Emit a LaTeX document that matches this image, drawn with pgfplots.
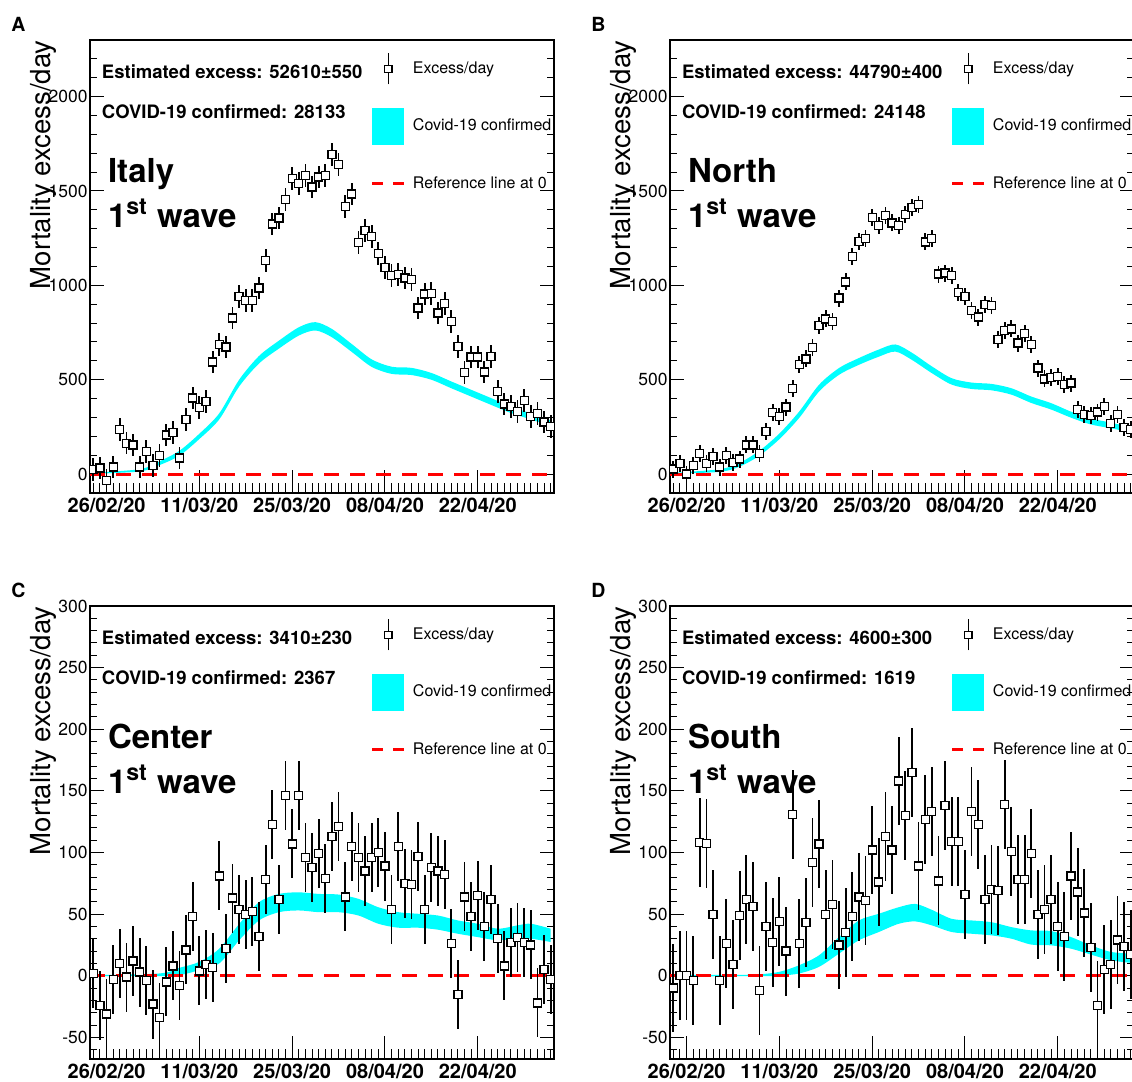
\documentclass[border=0pt]{standalone}
\usepackage{fontspec}
\setmainfont{TeX Gyre Heros}
\usepackage{pgfplots}
\usepackage{pgfplotstable}
\pgfplotsset{compat=1.18}
\usepgfplotslibrary{fillbetween}
\definecolor{rcyan}{RGB}{0,255,255}
\definecolor{rred}{RGB}{255,0,0}

\pgfplotsset{
 panel/.style={
  scale only axis, width=232pt, height=226.5pt, anchor=south west,
  xmin=-2.5, xmax=67.5,
  xtick={0,14,28,42,56},
  xticklabels={26/02/20,11/03/20,25/03/20,08/04/20,22/04/20},
  minor xtick={-2,-1,...,67},
  xtick pos=left,
  ytick pos=both, yticklabel pos=left,
  tick align=inside,
  major tick length=7pt, minor tick length=3.5pt,
  xtick style={/pgfplots/major tick length=11.5pt,/pgfplots/minor tick length=5pt},
  tick style={black, line width=0.5pt},
  axis line style={line width=0.65pt},
  xticklabel style={font=\bfseries\fontsize{10}{12}\selectfont, inner sep=0pt, yshift=-2.5pt},
  yticklabel style={font=\fontsize{8.75}{10}\selectfont, inner sep=0pt, xshift=-1pt},
  /pgf/number format/assume math mode=true,
  /pgf/number format/1000 sep={},
  scaled y ticks=false,
  ylabel={Mortality excess/day},
  ylabel style={at={(axis description cs:-0.1013,1)}, anchor=east, inner sep=0pt, font=\fontsize{13.8}{16}\selectfont},
  legend style={at={(axis description cs:0.6056,1)}, anchor=north west, draw=none, fill=none,
    inner sep=0pt, outer sep=0pt, row sep=0pt, nodes={inner sep=0pt},
    font=\fontsize{8}{9.6}\selectfont, /tikz/every odd column/.style={column sep=3.5pt}},
  legend cell align=left,
 },
 bigA/.style={ymin=-100, ymax=2300, ytick={0,500,...,2000}, minor ytick={-100,0,...,2300}},
 smallC/.style={ymin=-67.5, ymax=300, ytick={-50,0,...,300}, minor ytick={-60,-50,...,300}},
 exlegend/.style={legend image code/.code={
   \path[draw=none, fill=none] (0pt,-14.4pt) rectangle (16pt,14.4pt);
   \draw[black, line width=0.85pt] (8pt,-7.75pt) -- (8pt,7.75pt);
   \draw[black, line width=0.6pt, fill=white] (6.2pt,-1.8pt) rectangle (9.8pt,1.8pt);}},
 covlegend/.style={legend image code/.code={
   \path[draw=none, fill=none] (0pt,-14.4pt) rectangle (16pt,14.4pt);
   \fill[rcyan, draw=none] (0pt,-9.25pt) rectangle (16pt,9.25pt);}},
 reflegend/.style={legend image code/.code={
   \path[draw=none, fill=none] (0pt,-14.4pt) rectangle (16pt,14.4pt);
   \draw[rred, line width=1.5pt, dash pattern=on 5.5pt off 5pt] (0pt,0pt) -- (16pt,0pt);}},
 datapts/.style={only marks, mark=square*, mark size=2pt,
   mark options={fill=white, draw=black, line width=0.65pt, solid},
   /pgfplots/error bars/y dir=both, /pgfplots/error bars/y explicit,
   /pgfplots/error bars/error mark=none,
   /pgfplots/error bars/error bar style={line width=0.9pt, black}},
 refline/.style={rred, line width=1.5pt, dash pattern=on 7.5pt off 5.5pt},
}

\newcommand{\annot}[3]{%
  \node[anchor=base west, inner sep=0pt, font=\bfseries\fontsize{9.25}{11}\selectfont] at (axis description cs:0.025,0.914) {Estimated excess: #1};
  \node[anchor=base west, inner sep=0pt, font=\bfseries\fontsize{9.25}{11}\selectfont] at (axis description cs:0.025,0.827) {COVID-19 confirmed: #2};
  \node[anchor=base west, inner sep=0pt, font=\bfseries\fontsize{16.5}{19}\selectfont] at (axis description cs:0.038,0.685) {#3};
  \node[anchor=base west, inner sep=0pt, font=\bfseries\fontsize{16.5}{19}\selectfont] at (axis description cs:0.038,0.587) {1\textsuperscript{st} wave};
}
\newcommand{\legs}{%
  \addlegendimage{exlegend}\addlegendentry{Excess/day}
  \addlegendimage{covlegend}\addlegendentry{Covid-19 confirmed}
  \addlegendimage{reflegend}\addlegendentry{Reference line at 0}
}

\begin{document}
\pgfplotstableread{
d v
-2 25
-1 32
0 -34
1 37
2 235
3 164
4 155
5 37
6 120
7 46
8 97
9 208
10 221
11 85
12 288
13 403
14 353
15 385
16 594
17 686
18 673
19 827
20 942
21 921
22 921
23 986
24 1133
25 1325
26 1357
27 1454
28 1566
29 1539
30 1581
31 1521
32 1574
33 1581
34 1693
35 1640
36 1419
37 1484
38 1228
39 1290
40 1260
41 1168
42 1096
43 1051
44 1057
45 1039
46 1030
47 880
48 954
49 956
50 853
51 903
52 809
53 677
54 539
55 620
56 620
57 541
58 624
59 438
60 371
61 359
62 332
63 389
64 306
65 320
66 276
67 253
}\dataA
\pgfplotstableread{
d lo hi
-2 2 8
5 14 26
8 48 68
11 98 124
14 186 214
17 290 322
20 464 500
23 586 626
26 665 707
29 734 778
31.5 761 805
34 725 769
37 647 689
40 568 608
43 531 569
46 525 563
49 500 536
52 455 491
55 411 447
58 367 403
61 324 358
64 290 322
67 255 285
}\bandA
\pgfplotstableread{
d v
-2 27
-1 55
0 0
1 46
2 111
3 58
4 94
5 37
6 97
7 62
8 80
9 155
10 155
11 108
12 226
13 327
14 306
15 355
16 452
17 580
18 610
19 671
20 786
21 822
22 809
23 933
24 1018
25 1154
26 1233
27 1247
28 1361
29 1316
30 1371
31 1331
32 1316
33 1375
34 1414
35 1428
36 1230
37 1247
38 1060
39 1065
40 1053
41 963
42 942
43 868
44 832
45 898
46 892
47 712
48 760
49 769
50 694
51 744
52 686
53 562
54 504
55 512
56 518
57 474
58 482
59 341
60 315
61 311
62 329
63 359
64 270
65 315
66 247
67 235
}\dataB
\pgfplotstableread{
d lo hi
-2 2 7
5 12 26
8 40 60
11 98 124
14 185 215
17 298 332
20 438 474
23 526 562
26 579 615
29 622 660
31.5 649 687
34 605 643
37 535 571
40 474 508
43 451 485
46 444 478
49 421 455
52 377 411
55 342 376
58 299 331
61 263 295
64 243 273
67 221 249
}\bandB
\pgfplotstableread{
d v
-2 2
-1 -24
0 -31
1 -3
2 10
3 -1
4 12
5 3
6 -4
7 -23
8 -34
9 -5
10 8
11 -8
12 21
13 48
14 4
15 9
16 7
17 81
18 22
19 63
20 54
21 50
22 52
23 32
24 78
25 123
26 62
27 146
28 107
29 146
30 96
31 88
32 99
33 79
34 113
35 121
36 64
37 105
38 96
39 85
40 96
41 100
42 89
43 54
44 105
45 75
46 74
47 97
48 54
49 88
50 85
51 82
52 26
53 -15
54 64
55 48
56 65
57 40
58 62
59 30
60 8
61 27
62 31
63 27
64 25
65 -22
66 5
67 -3
}\dataC
\pgfplotstableread{
d lo hi
-2 -0.3 0.5
8 -0.3 1.9
11 0.5 6.5
14 4.6 11.3
17 10 22
20 28.8 42
23 44.9 59.7
26 51.6 66.4
29 53 67.7
32 51.6 66.4
35 51.6 65.9
38 48.9 62.4
41 42.2 55.6
44 39 51.6
47 39 50.3
50 37.4 48.9
53 34.1 44.9
56 31.4 42.2
59 28.8 38.2
62 30.1 40.9
64 30.1 42.2
67 27.4 38.2
}\bandC
\pgfplotstableread{
d v
-2 -10
-1 0
0 0.5
1 -4
2 108
3 107.5
4 50
5 -4
6 26
7 9
8 49
9 62
10 56
11 -12
12 40
13 27
14 44
15 20
16 131
17 26
18 43
19 92
20 107
21 50
22 58
23 25
24 35
25 48
26 64
27 61
28 102
29 76
30 113
31 102
32 158
33 130
34 165
35 89
36 127
37 133
38 77
39 138
40 109
41 109
42 66
43 133
44 123
45 62
46 70
47 69
48 139
49 101
50 78
51 78
52 99
53 50
54 54
55 62
56 40
57 32
58 81
59 68
60 51
61 23
62 -24
63 5
64 9
65 29
66 24
67 17
}\dataD
\pgfplotstableread{
d lo hi
-2 -0.5 0.8
8 -0.3 0.8
11 -0.3 1.2
14 0 3.2
17 1.9 8.6
20 7.3 16.7
23 18 31.4
26 28.8 44.9
29 35.5 50.3
32 42.2 55.6
34.5 44.1 58.3
37 40.9 53.5
40 35.5 46.2
43 34.1 44.9
46 32.8 43.5
49 30.1 39.5
52 25.3 36.8
55 24.7 36.3
58 22 31.4
61 17.2 24.7
64 12.6 19.4
67 10.5 18
}\bandD
\begin{tikzpicture}
% ---------- A ----------
\begin{axis}[panel, bigA, at={(45pt,294.5pt)}]
\legs
\addplot[name path=Au, draw=none, smooth, forget plot] table[x=d, y=hi] {\bandA};
\addplot[name path=Al, draw=none, smooth, forget plot] table[x=d, y=lo] {\bandA};
\addplot[fill=rcyan, draw=none, forget plot] fill between[of=Au and Al];
\addplot[refline, forget plot] coordinates {(-2.5,0) (67.5,0)};
\addplot[forget plot, datapts] table[x=d, y=v, y error expr=60] {\dataA};
\annot{52610±550}{28133}{Italy}
\end{axis}
% ---------- B ----------
\begin{axis}[panel, bigA, at={(335pt,294.5pt)}]
\legs
\addplot[name path=Bu, draw=none, smooth, forget plot] table[x=d, y=hi] {\bandB};
\addplot[name path=Bl, draw=none, smooth, forget plot] table[x=d, y=lo] {\bandB};
\addplot[fill=rcyan, draw=none, forget plot] fill between[of=Bu and Bl];
\addplot[refline, forget plot] coordinates {(-2.5,0) (67.5,0)};
\addplot[forget plot, datapts] table[x=d, y=v, y error expr=45] {\dataB};
\annot{44790±400}{24148}{North}
\end{axis}
% ---------- C ----------
\begin{axis}[panel, smallC, at={(45pt,11.5pt)}]
\legs
\addplot[name path=Cu, draw=none, smooth, forget plot] table[x=d, y=hi] {\bandC};
\addplot[name path=Cl, draw=none, smooth, forget plot] table[x=d, y=lo] {\bandC};
\addplot[fill=rcyan, draw=none, forget plot] fill between[of=Cu and Cl];
\addplot[refline, forget plot] coordinates {(-2.5,0) (67.5,0)};
\addplot[forget plot, datapts] table[x=d, y=v, y error expr=28] {\dataC};
\annot{3410±230}{2367}{Center}
\end{axis}
% ---------- D ----------
\begin{axis}[panel, smallC, at={(335pt,11.5pt)}]
\legs
\addplot[name path=Du, draw=none, smooth, forget plot] table[x=d, y=hi] {\bandD};
\addplot[name path=Dl, draw=none, smooth, forget plot] table[x=d, y=lo] {\bandD};
\addplot[fill=rcyan, draw=none, forget plot] fill between[of=Du and Dl];
\addplot[refline, forget plot] coordinates {(-2.5,0) (67.5,0)};
\addplot[forget plot, datapts] table[x=d, y=v, y error expr=36] {\dataD};
\annot{4600±300}{1619}{South}
\end{axis}
% panel letters
\node[anchor=base west, inner sep=0pt, font=\bfseries\fontsize{9.75}{11}\selectfont] at (5.5pt,525pt) {A};
\node[anchor=base west, inner sep=0pt, font=\bfseries\fontsize{9.75}{11}\selectfont] at (295.5pt,525pt) {B};
\node[anchor=base west, inner sep=0pt, font=\bfseries\fontsize{9.75}{11}\selectfont] at (5.5pt,242pt) {C};
\node[anchor=base west, inner sep=0pt, font=\bfseries\fontsize{9.75}{11}\selectfont] at (295.5pt,242pt) {D};
\pgfresetboundingbox
\path[use as bounding box] (0,0) rectangle (566pt,541pt);
\end{tikzpicture}
\end{document}
